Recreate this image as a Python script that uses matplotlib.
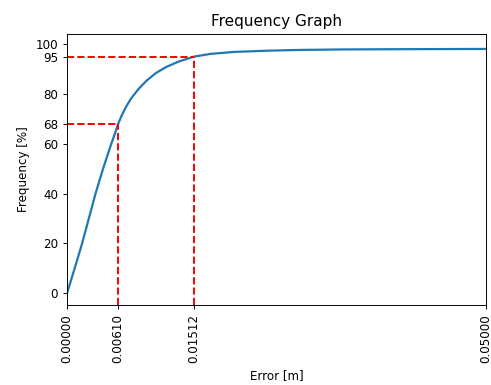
import matplotlib
matplotlib.use("Agg")
import matplotlib.pyplot as plt

# error values [m] and cumulative frequency [%]
error = [0.0, 0.001, 0.0018, 0.0026, 0.0034, 0.0043, 0.0052, 0.0057, 0.0061,
         0.0065, 0.0070, 0.0076, 0.0085, 0.0095, 0.0106, 0.0118, 0.0133,
         0.01512, 0.0171, 0.0199, 0.0239, 0.0278, 0.033, 0.040, 0.050]
freq = [0.0, 11.0, 20.0, 30.0, 40.0, 50.0, 59.2, 64.0, 68.0,
        71.2, 74.6, 78.0, 81.9, 85.4, 88.4, 90.8, 93.0,
        95.0, 96.1, 96.9, 97.4, 97.7, 97.9, 98.0, 98.1]

marks_x = [0.0061, 0.01512]
marks_y = [68, 95]
y_ticks = [0, 20, 40, 60, 68, 80, 95, 100]
x_ticks = [0.0, 0.0061, 0.01512, 0.05]

s = 0.86
plt.rcParams["font.size"] = 10 * s
plt.rcParams["axes.linewidth"] = 0.8 * s
plt.rcParams["xtick.major.size"] = 3.5 * s
plt.rcParams["ytick.major.size"] = 3.5 * s
plt.rcParams["xtick.major.width"] = 0.8 * s
plt.rcParams["ytick.major.width"] = 0.8 * s


def main():
    fig = plt.figure(figsize=(4.91, 3.85), dpi=100)
    ax = fig.add_axes([0.1365, 0.2078, 0.8533, 0.7039])
    ymin, ymax = -4.7, 104.1

    ax.plot(error, freq, color="#1f77b4", linewidth=1.6)
    for x, y in zip(marks_x, marks_y):
        ax.plot([0, x], [y, y], "r--", linewidth=1.4)
        ax.plot([x, x], [ymin, y], "r--", linewidth=1.4)

    ax.set_xlim(0, 0.05)
    ax.set_ylim(ymin, ymax)
    ax.set_yticks(y_ticks)
    ax.set_xticks(x_ticks)
    ax.set_xticklabels([f"{t:.5f}" for t in x_ticks], rotation=90)
    ax.set_title("Frequency Graph", fontsize=11, pad=6)
    ax.set_xlabel("Error [m]")
    ax.set_ylabel("Frequency [%]")
    fig.savefig("out.png", dpi=100)


if __name__ == "__main__":
    main()
